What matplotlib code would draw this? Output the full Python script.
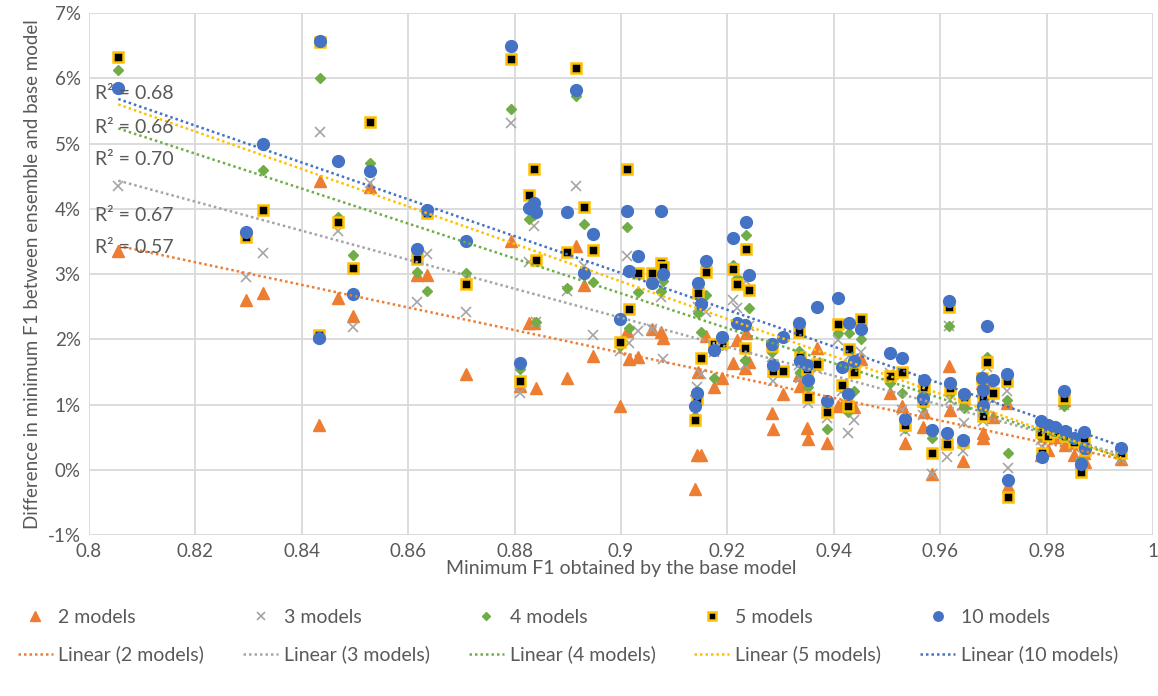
import numpy as np
import matplotlib
matplotlib.use("Agg")
import matplotlib.pyplot as plt
from matplotlib.ticker import FuncFormatter, MultipleLocator

plt.rcParams["font.family"] = ["Lato", "DejaVu Sans"]

# Minimum F1 obtained by the base model (x)
base_f1 = [
    0.8055, 0.8295, 0.8327, 0.8432, 0.8434, 0.8468, 0.8496, 0.8528, 0.8617, 0.8635,
    0.8709, 0.8793, 0.8810, 0.8827, 0.8836, 0.8840, 0.8898, 0.8915, 0.8930, 0.8947,
    0.8998, 0.9011, 0.9015, 0.9032, 0.9058, 0.9075, 0.9079, 0.9139, 0.9143, 0.9145,
    0.9150, 0.9160, 0.9175, 0.9190, 0.9211, 0.9218, 0.9233, 0.9235, 0.9241, 0.9284,
    0.9286, 0.9305, 0.9335, 0.9337, 0.9350, 0.9352, 0.9368, 0.9387, 0.9408, 0.9415,
    0.9427, 0.9429, 0.9438, 0.9451, 0.9506, 0.9528, 0.9534, 0.9568, 0.9570, 0.9585,
    0.9613, 0.9617, 0.9618, 0.9643, 0.9645, 0.9679, 0.9680, 0.9681, 0.9688, 0.9699,
    0.9725, 0.9727, 0.9790, 0.9792, 0.9803, 0.9816, 0.9833, 0.9834, 0.9852, 0.9865,
    0.9871, 0.9873, 0.9940,
]

# Difference in minimum F1 (%) for each ensemble size
diff_2 = [
    3.35, 2.60, 2.71, 0.68, 4.43, 2.63, 2.36, 4.34, 2.98, 2.98,
    1.47, 3.51, 1.28, 2.25, 2.25, 1.26, 1.41, 3.43, 2.83, 1.75,
    0.98, 2.13, 1.69, 1.73, 2.16, 2.11, 2.02, -0.29, 0.23, 1.50,
    0.23, 2.05, 1.27, 1.41, 1.64, 1.99, 1.56, 2.10, 1.65, 0.87,
    0.63, 1.16, 1.45, 1.29, 0.64, 0.47, 1.87, 0.41, 0.97, 1.00,
    0.97, 1.60, 0.96, 1.70, 1.17, 0.97, 0.41, 0.66, 0.89, -0.06,
    0.42, 1.59, 0.92, 0.14, 1.03, 1.33, 0.56, 0.49, 1.33, 0.81,
    1.02, -0.25, 0.23, 0.30, 0.30, 0.50, 1.07, 0.38, 0.23, 0.10,
    0.25, 0.12, 0.16,
]
diff_3 = [
    4.35, 2.96, 3.32, 2.05, 5.18, 3.66, 2.19, 4.40, 2.57, 3.30,
    2.42, 5.31, 1.18, 3.19, 3.74, 2.27, 2.74, 4.35, 3.12, 2.07,
    1.82, 3.28, 1.95, 2.13, 2.16, 2.65, 1.70, 1.07, 1.27, 2.50,
    1.47, 2.42, 1.81, 1.90, 2.60, 2.48, 1.60, 2.90, 2.20, 1.73,
    1.36, 1.50, 1.60, 1.41, 1.40, 1.03, 1.55, 0.80, 1.99, 1.20,
    0.57, 1.75, 0.77, 1.80, 1.49, 0.92, 0.60, 0.84, 1.22, -0.06,
    0.19, 2.20, 1.07, 0.29, 0.72, 1.20, 1.09, 0.74, 1.58, 1.07,
    1.20, 0.03, 0.46, 0.35, 0.45, 0.55, 1.00, 0.45, 0.35, 0.10,
    0.35, 0.30, 0.16,
]
diff_4 = [
    6.12, 3.62, 4.59, 2.05, 6.00, 3.87, 3.29, 4.70, 3.03, 2.74,
    3.02, 5.53, 1.55, 3.84, 3.90, 2.27, 2.79, 5.73, 3.77, 2.88,
    1.90, 3.72, 2.18, 2.73, 2.94, 2.74, 2.90, 0.82, 1.20, 2.40,
    2.11, 2.68, 1.41, 1.91, 3.14, 2.94, 1.68, 3.60, 2.48, 1.80,
    1.55, 1.52, 1.82, 1.50, 1.50, 1.27, 1.60, 0.63, 2.10, 1.25,
    0.89, 2.10, 1.21, 2.00, 1.33, 1.17, 0.64, 1.00, 1.25, 0.49,
    0.45, 2.21, 1.18, 0.44, 0.95, 1.35, 1.05, 0.85, 1.73, 1.20,
    1.07, 0.26, 0.50, 0.18, 0.55, 0.60, 0.97, 0.50, 0.40, 0.15,
    0.45, 0.35, 0.22,
]
diff_5 = [
    6.33, 3.57, 3.98, 2.07, 6.55, 3.80, 3.09, 5.33, 3.23, 3.94,
    2.85, 6.29, 1.36, 4.21, 4.61, 3.22, 3.34, 6.16, 4.03, 3.37,
    1.96, 4.61, 2.47, 3.02, 3.01, 3.17, 3.11, 0.76, 1.09, 2.71,
    1.72, 3.03, 1.92, 1.95, 3.08, 2.85, 1.87, 3.39, 2.76, 1.90,
    1.52, 1.52, 2.11, 1.73, 1.55, 1.12, 1.62, 0.89, 2.24, 1.30,
    0.98, 1.85, 1.50, 2.31, 1.44, 1.50, 0.69, 1.05, 1.27, 0.26,
    0.40, 2.50, 1.26, 0.42, 1.12, 1.41, 1.10, 0.82, 1.65, 1.18,
    1.36, -0.41, 0.58, 0.25, 0.52, 0.58, 1.10, 0.52, 0.42, -0.03,
    0.49, 0.30, 0.26,
]
diff_10 = [
    5.85, 3.64, 4.99, 2.02, 6.57, 4.73, 2.69, 4.58, 3.38, 3.98,
    3.51, 6.49, 1.64, 4.01, 4.09, 3.95, 3.95, 5.82, 3.02, 3.61,
    2.31, 3.97, 3.05, 3.28, 2.86, 3.97, 3.00, 0.97, 1.18, 2.86,
    2.54, 3.20, 1.83, 2.04, 3.55, 2.25, 2.22, 3.80, 2.98, 1.93,
    1.61, 2.04, 2.25, 1.67, 1.61, 1.38, 2.50, 1.05, 2.63, 1.58,
    1.16, 2.25, 1.67, 2.16, 1.79, 1.71, 0.78, 1.10, 1.38, 0.61,
    0.56, 2.59, 1.33, 0.46, 1.16, 1.41, 1.23, 0.97, 2.20, 1.38,
    1.47, -0.16, 0.75, 0.20, 0.69, 0.66, 1.20, 0.60, 0.49, 0.09,
    0.58, 0.34, 0.34,
]

series_names = ["2 models", "3 models", "4 models", "5 models", "10 models"]
r2_labels = ["R\u00b2 = 0.68", "R\u00b2 = 0.66", "R\u00b2 = 0.70", "R\u00b2 = 0.67", "R\u00b2 = 0.57"]

orange = "#ED7D31"
grey = "#A5A5A5"
green = "#70AD47"
gold = "#FFC000"
blue = "#4472C4"
text_col = "#595959"
grid_col = "#D9D9D9"

fig = plt.figure(figsize=(11.58, 6.96), dpi=100)
ax = fig.add_axes([0.0769, 0.2313, 0.9188, 0.75])

x = np.array(base_f1)
all_diffs = [diff_2, diff_3, diff_4, diff_5, diff_10]
styles = [
    dict(marker="^", color=orange, ms=8.5, mec=orange),
    dict(marker="x", color=grey, ms=7, mew=1.2),
    dict(marker="D", color=green, ms=5.5, mec=green),
    dict(marker="s", color="black", ms=7, mec=gold, mew=1.8),
    dict(marker="o", color=blue, ms=8.5, mec=blue),
]
line_cols = [orange, grey, green, gold, blue]

scatter_handles = []
for ys, st, name in zip(all_diffs, styles, series_names):
    h, = ax.plot(x, ys, linestyle="none", label=name, zorder=3, **st)
    scatter_handles.append(h)

trend_handles = []
xs = np.array([x.min(), x.max()])
for ys, col, name in zip(all_diffs, line_cols, series_names):
    k, b = np.polyfit(x, np.array(ys), 1)
    h, = ax.plot(xs, k * xs + b, color=col, lw=1.8, linestyle=(0, (1, 1.2)),
                 label="Linear (%s)" % name, zorder=4)
    trend_handles.append(h)

# R² annotations (order as in the chart: 10, 5, 4, 3, 2 models)
r2_y = [5.77, 5.25, 4.75, 3.90, 3.40]
for lab, yy in zip(r2_labels, r2_y):
    ax.text(0.8011, yy, lab, fontsize=14, color=text_col, va="center", ha="left", zorder=5)

ax.set_xlim(0.8, 1.0)
ax.set_ylim(-1, 7)
ax.xaxis.set_major_locator(MultipleLocator(0.02))
ax.yaxis.set_major_locator(MultipleLocator(1))
ax.xaxis.set_major_formatter(FuncFormatter(lambda v, p: ("%.2f" % v).rstrip("0").rstrip(".")))
ax.yaxis.set_major_formatter(FuncFormatter(lambda v, p: "%d%%" % round(v)))
ax.grid(True, color=grid_col, lw=1.3)
ax.set_axisbelow(True)
for s in ax.spines.values():
    s.set_visible(False)
ax.tick_params(length=0, labelsize=13.5, colors=text_col, pad=6)

ax.set_xlabel("Minimum F1 obtained by the base model", fontsize=14, color=text_col, labelpad=0)
ax.set_ylabel("Difference in minimum F1 between ensemble and base model", fontsize=13.5,
              color=text_col, labelpad=5)

handles = []
for sh, th in zip(scatter_handles, trend_handles):
    handles += [sh, th]
leg = fig.legend(handles=handles, labels=[h.get_label() for h in handles], ncol=5,
                 loc="upper left", bbox_to_anchor=(0.0, 0.15), frameon=False,
                 fontsize=14, labelcolor=text_col, handlelength=1.8, handletextpad=0.3,
                 columnspacing=2.0, labelspacing=1.0, numpoints=1, markerscale=0.8)

fig.savefig("out.png", dpi=100)
